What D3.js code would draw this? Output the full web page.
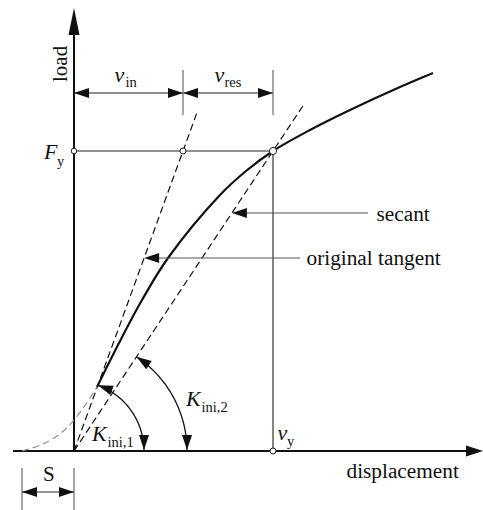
<!DOCTYPE html>
<html>
<head>
<meta charset="utf-8">
<script src="https://cdn.jsdelivr.net/npm/d3@7"></script>
<style>
  html, body { margin: 0; padding: 0; background: #fff; }
  svg { display: block; }
</style>
</head>
<body>
<svg id="chart" width="483" height="510"></svg>
<script>
// Load–displacement curve (dimensionless units)
const curveDisp = [0.23, 0.45, 0.68, 0.94, 1.46, 1.72, 1.99, 2.36, 2.76, 3.26, 3.59];
const curveLoad = [0.64, 1.08, 1.51, 1.93, 2.56, 2.80, 3.00, 3.21, 3.41, 3.64, 3.78];
// Initial slip branch before the origin
const slipDisp = [-0.52, -0.31, -0.13, 0.00, 0.12, 0.23];
const slipLoad = [0.00, 0.07, 0.18, 0.31, 0.47, 0.64];
// Characteristic values
const Fy = 3.0;        // yield load
const vy = 1.99;       // yield displacement
const vin = 1.09;      // displacement on the original tangent at Fy
const S = 0.52;        // initial slip
const tangentTop = 3.38;
const secantTop = 3.45;

const FONT = "'Liberation Serif', 'Times New Roman', Times, 'DejaVu Serif', serif";

const svg = d3.select("#chart");
const x = d3.scaleLinear().domain([0, 4]).range([74, 474]);
const y = d3.scaleLinear().domain([0, 4]).range([451, 51]);

const K1 = Fy / vin;   // tangent stiffness
const K2 = Fy / vy;    // secant stiffness

function arrowHead(tx, ty, ang, L = 15, hw = 5, fill = "#111") {
  const c = Math.cos(ang), s = Math.sin(ang);
  const bx = tx - L * c, by = ty - L * s;
  const px = -s * hw, py = c * hw;
  svg.append("path")
    .attr("d", `M${tx},${ty}L${bx + px},${by + py}L${bx - px},${by - py}Z`)
    .attr("fill", fill);
}
function label(tx, ty, size, str, italic) {
  return svg.append("text").attr("x", tx).attr("y", ty)
    .attr("font-family", FONT).attr("font-size", size)
    .attr("font-style", italic ? "italic" : "normal")
    .attr("fill", "#111").text(str);
}

// axes
svg.append("line").attr("x1", x(-0.61)).attr("x2", 470).attr("y1", y(0)).attr("y2", y(0))
  .attr("stroke", "#111").attr("stroke-width", 2);
arrowHead(483, y(0), 0, 17, 5.5);
svg.append("line").attr("x1", x(0)).attr("x2", x(0)).attr("y1", y(0) + 1).attr("y2", 30)
  .attr("stroke", "#111").attr("stroke-width", 2);
arrowHead(x(0), 8, -Math.PI / 2, 27, 5.5);

// Fy level and yield displacement
svg.append("line").attr("x1", x(0)).attr("x2", x(vy)).attr("y1", y(Fy)).attr("y2", y(Fy))
  .attr("stroke", "#222").attr("stroke-width", 1.2);
svg.append("line").attr("x1", x(vy)).attr("x2", x(vy)).attr("y1", y(Fy)).attr("y2", y(0))
  .attr("stroke", "#333").attr("stroke-width", 1.2);

// tangent and secant lines
const dash = "7,4";
svg.append("line").attr("x1", x(0)).attr("y1", y(0)).attr("x2", x(tangentTop / K1)).attr("y2", y(tangentTop))
  .attr("stroke", "#111").attr("stroke-width", 1.2).attr("stroke-dasharray", dash);
svg.append("line").attr("x1", x(0)).attr("y1", y(0)).attr("x2", x(secantTop / K2)).attr("y2", y(secantTop))
  .attr("stroke", "#111").attr("stroke-width", 1.2).attr("stroke-dasharray", dash);

// slip branch
const line = d3.line().x(d => x(d[0])).y(d => y(d[1])).curve(d3.curveCatmullRom);
svg.append("path").datum(slipDisp.map((d, i) => [d, slipLoad[i]]))
  .attr("d", line).attr("fill", "none").attr("stroke", "#888").attr("stroke-width", 1.1)
  .attr("stroke-dasharray", "7,4");
// main curve
svg.append("path").datum(curveDisp.map((d, i) => [d, curveLoad[i]]))
  .attr("d", line).attr("fill", "none").attr("stroke", "#111").attr("stroke-width", 2.2);

// marker circles
[[0, Fy, 2.8], [vin, Fy, 3], [vy, Fy, 3.6], [vy, 0, 3]].forEach(([d, f, r]) => {
  svg.append("circle").attr("cx", x(d)).attr("cy", y(f)).attr("r", r)
    .attr("fill", "#fff").attr("stroke", "#222").attr("stroke-width", 1);
});

// dimension line for v_in and v_res
const dimY = 93;
svg.append("line").attr("x1", x(0)).attr("x2", x(vy)).attr("y1", dimY).attr("y2", dimY)
  .attr("stroke", "#222").attr("stroke-width", 1);
[vin, vy].forEach(d => {
  svg.append("line").attr("x1", x(d)).attr("x2", x(d)).attr("y1", 70).attr("y2", 115)
    .attr("stroke", "#777").attr("stroke-width", 1.3);
});
arrowHead(x(0), dimY, Math.PI);
arrowHead(x(vin), dimY, 0);
arrowHead(x(vin), dimY, Math.PI);
arrowHead(x(vy), dimY, 0);

// slip dimension
const sY = 492;
[-S, 0].forEach(d => {
  svg.append("line").attr("x1", x(d)).attr("x2", x(d)).attr("y1", 468).attr("y2", 510)
    .attr("stroke", "#777").attr("stroke-width", 1.3);
});
svg.append("line").attr("x1", x(-S)).attr("x2", x(0)).attr("y1", sY).attr("y2", sY)
  .attr("stroke", "#222").attr("stroke-width", 1);
arrowHead(x(-S), sY, Math.PI);
arrowHead(x(0), sY, 0);

// stiffness arcs
function stiffArc(k, r) {
  const cx = x(0), cy = y(0);
  const phi = Math.atan(k * (y(0) - y(1)) / (x(1) - x(0)));
  const arc = d3.range(0, 41).map(i => {
    const a = phi * i / 40;
    return [cx + r * Math.cos(a), cy - r * Math.sin(a)];
  });
  svg.append("path").attr("d", d3.line()(arc)).attr("fill", "none")
    .attr("stroke", "#111").attr("stroke-width", 1.3);
  const tx = cx + r * Math.cos(phi), ty = cy - r * Math.sin(phi);
  arrowHead(tx, ty, Math.atan2(-Math.cos(phi), -Math.sin(phi)));
  arrowHead(cx + r, cy - 1, Math.PI / 2);
}
stiffArc(K1, 70);
stiffArc(K2, 113);

// leader arrows
function leader(tx, ty, x2, str, lx, ly) {
  svg.append("line").attr("x1", tx + 10).attr("x2", x2).attr("y1", ty).attr("y2", ty)
    .attr("stroke", "#555").attr("stroke-width", 1.1);
  arrowHead(tx, ty, Math.PI);
  label(lx, ly, 21.3, str, false);
}
leader(x(y.invert(213) / K2), 213, 368, "secant", 376.5, 221);
leader(x(y.invert(258) / K1), 258, 300, "original tangent", 306.5, 265);

// symbols with subscripts
function symbol(main, sub, mx, my, sx, sy) {
  label(mx, my, 22, main, true);
  if (sub) label(sx, sy, 14.5, sub, false);
}
symbol("v", "in", 114.5, 82, 125.5, 87);
symbol("v", "res", 214.5, 82, 224.5, 87);
symbol("F", "y", 44, 159, 57, 166);
symbol("v", "y", 277.5, 440, 287, 446);
symbol("K", "ini,1", 92, 441, 107.5, 447);
symbol("K", "ini,2", 186, 406, 201.5, 412);
label(43, 481, 21, "S", false);

label(346.5, 478, 21.3, "displacement", false);
svg.append("text").attr("transform", "translate(67,82) rotate(-90)")
  .attr("font-family", FONT).attr("font-size", 21).attr("fill", "#111").text("load");
</script>
</body>
</html>
